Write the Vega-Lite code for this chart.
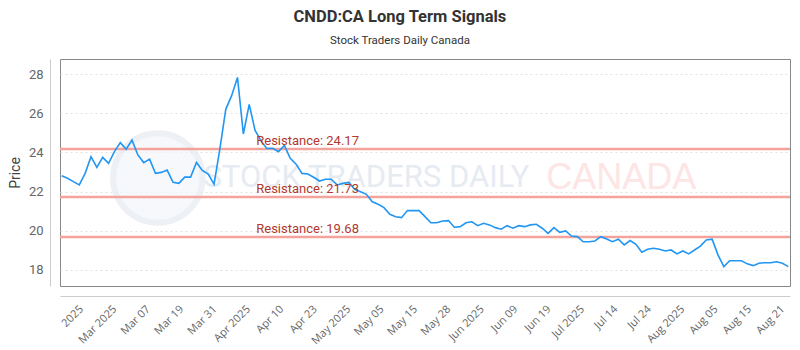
{
  "$schema": "https://vega.github.io/schema/vega-lite/v6.json",
  "width": 730,
  "height": 227,
  "autosize": {"type": "none"},
  "padding": {"left": 60, "top": 59, "right": 10, "bottom": 64},
  "background": "white",
  "title": {
    "text": "CNDD:CA Long Term Signals",
    "subtitle": "Stock Traders Daily Canada",
    "anchor": "middle",
    "frame": "bounds",
    "font": "Roboto",
    "fontSize": 16.5,
    "fontWeight": "bold",
    "color": "#333333",
    "subtitleFont": "Roboto",
    "subtitleFontSize": 11.5,
    "subtitleColor": "#333333",
    "subtitlePadding": 9,
    "offset": 13
  },
  "config": {
    "view": {"stroke": "#888888", "strokeWidth": 1},
    "axisX": {"labelOverlap": false, "labelFlush": false, "labelBound": false}
  },
  "datasets": {
    "prices": [
      {"day": 0, "price": 22.81}, {"day": 1, "price": 22.68}, {"day": 2, "price": 22.51}, {"day": 3, "price": 22.34},
      {"day": 4, "price": 22.93}, {"day": 5, "price": 23.78}, {"day": 6, "price": 23.24}, {"day": 7, "price": 23.75},
      {"day": 8, "price": 23.44}, {"day": 9, "price": 24.04}, {"day": 10, "price": 24.5}, {"day": 11, "price": 24.16},
      {"day": 12, "price": 24.63}, {"day": 13, "price": 23.87}, {"day": 14, "price": 23.48}, {"day": 15, "price": 23.66},
      {"day": 16, "price": 22.93}, {"day": 17, "price": 22.98}, {"day": 18, "price": 23.1}, {"day": 19, "price": 22.47},
      {"day": 20, "price": 22.42}, {"day": 21, "price": 22.74}, {"day": 22, "price": 22.74}, {"day": 23, "price": 23.49},
      {"day": 24, "price": 23.08}, {"day": 25, "price": 22.89}, {"day": 26, "price": 22.38}, {"day": 27, "price": 24.2},
      {"day": 28, "price": 26.2}, {"day": 29, "price": 26.9}, {"day": 30, "price": 27.83}, {"day": 31, "price": 24.94},
      {"day": 32, "price": 26.45}, {"day": 33, "price": 25.12}, {"day": 34, "price": 24.6}, {"day": 35, "price": 24.2},
      {"day": 36, "price": 24.21}, {"day": 37, "price": 24.04}, {"day": 38, "price": 24.36}, {"day": 39, "price": 23.7},
      {"day": 40, "price": 23.4}, {"day": 41, "price": 22.93}, {"day": 42, "price": 22.9}, {"day": 43, "price": 22.73},
      {"day": 44, "price": 22.54}, {"day": 45, "price": 22.63}, {"day": 46, "price": 22.63}, {"day": 47, "price": 22.34},
      {"day": 48, "price": 22.42}, {"day": 49, "price": 22.47}, {"day": 50, "price": 22.12}, {"day": 51, "price": 21.99},
      {"day": 52, "price": 21.86}, {"day": 53, "price": 21.48}, {"day": 54, "price": 21.35}, {"day": 55, "price": 21.18},
      {"day": 56, "price": 20.84}, {"day": 57, "price": 20.72}, {"day": 58, "price": 20.67}, {"day": 59, "price": 21.03},
      {"day": 60, "price": 21.03}, {"day": 61, "price": 21.03}, {"day": 62, "price": 20.72}, {"day": 63, "price": 20.41},
      {"day": 64, "price": 20.41}, {"day": 65, "price": 20.5}, {"day": 66, "price": 20.52}, {"day": 67, "price": 20.18},
      {"day": 68, "price": 20.21}, {"day": 69, "price": 20.41}, {"day": 70, "price": 20.46}, {"day": 71, "price": 20.26},
      {"day": 72, "price": 20.38}, {"day": 73, "price": 20.3}, {"day": 74, "price": 20.16}, {"day": 75, "price": 20.08},
      {"day": 76, "price": 20.26}, {"day": 77, "price": 20.13}, {"day": 78, "price": 20.26}, {"day": 79, "price": 20.21},
      {"day": 80, "price": 20.3}, {"day": 81, "price": 20.33}, {"day": 82, "price": 20.13}, {"day": 83, "price": 19.87},
      {"day": 84, "price": 20.16}, {"day": 85, "price": 19.92}, {"day": 86, "price": 19.99}, {"day": 87, "price": 19.73},
      {"day": 88, "price": 19.7}, {"day": 89, "price": 19.44}, {"day": 90, "price": 19.44}, {"day": 91, "price": 19.48},
      {"day": 92, "price": 19.7}, {"day": 93, "price": 19.58}, {"day": 94, "price": 19.44}, {"day": 95, "price": 19.57},
      {"day": 96, "price": 19.28}, {"day": 97, "price": 19.5}, {"day": 98, "price": 19.31}, {"day": 99, "price": 18.9},
      {"day": 100, "price": 19.06}, {"day": 101, "price": 19.11}, {"day": 102, "price": 19.06}, {"day": 103, "price": 18.97},
      {"day": 104, "price": 19.02}, {"day": 105, "price": 18.82}, {"day": 106, "price": 18.97}, {"day": 107, "price": 18.82},
      {"day": 108, "price": 19.02}, {"day": 109, "price": 19.22}, {"day": 110, "price": 19.53}, {"day": 111, "price": 19.57},
      {"day": 112, "price": 18.77}, {"day": 113, "price": 18.17}, {"day": 114, "price": 18.47}, {"day": 115, "price": 18.47},
      {"day": 116, "price": 18.47}, {"day": 117, "price": 18.31}, {"day": 118, "price": 18.22}, {"day": 119, "price": 18.34},
      {"day": 120, "price": 18.37}, {"day": 121, "price": 18.37}, {"day": 122, "price": 18.42}, {"day": 123, "price": 18.34},
      {"day": 124, "price": 18.17}
    ],
    "levels": [
      {"level": 24.17, "label": "Resistance: 24.17"},
      {"level": 21.73, "label": "Resistance: 21.73"},
      {"level": 19.68, "label": "Resistance: 19.68"}
    ]
  },
  "layer": [
    {
      "data": {"name": "prices"},
      "mark": {"type": "line", "color": "#2196f3", "strokeWidth": 0, "opacity": 0},
      "encoding": {
        "x": {
          "field": "day",
          "type": "quantitative",
          "scale": {"domain": [-0.29, 124.29], "nice": false, "zero": false},
          "axis": {
            "title": null,
            "values": [2.62, 8.32, 14.02, 19.72, 25.42, 31.12, 36.82, 42.52, 48.22, 53.92, 59.62, 65.32, 71.02, 76.72, 82.42, 88.12, 93.82, 99.52, 105.22, 110.92, 116.62, 122.32],
            "tickCount": 40,
            "labelExpr": "['2025','Mar 2025','Mar 07','Mar 19','Mar 31','Apr 2025','Apr 10','Apr 23','May 2025','May 05','May 15','May 28','Jun 2025','Jun 09','Jun 19','Jul 2025','Jul 14','Jul 24','Aug 2025','Aug 05','Aug 15','Aug 21'][round((datum.value - 2.62) / 5.7)]",
            "labelAngle": -45,
            "labelAlign": "right",
            "labelBaseline": "top",
            "labelPadding": 7,
            "labelFont": "Open Sans",
            "labelFontSize": 11,
            "labelColor": "#666666",
            "labelOverlap": false,
            "labelFlush": false,
            "labelBound": false,
            "ticks": false,
            "grid": false,
            "domainColor": "#cccccc",
            "offset": 10
          }
        },
        "y": {
          "field": "price",
          "type": "quantitative",
          "scale": {"domain": [17.18, 28.77], "nice": false, "zero": false},
          "axis": {
            "title": "Price",
            "values": [18, 20, 22, 24, 26, 28],
            "grid": true,
            "gridColor": "#e2e2e2",
            "gridDash": [2, 3],
            "ticks": false,
            "domainColor": "#cccccc",
            "offset": 10,
            "labelFont": "Roboto",
            "labelFontSize": 13,
            "labelColor": "#666666",
            "labelPadding": 7,
            "titleFont": "Roboto",
            "titleFontSize": 14,
            "titleFontWeight": "normal",
            "titleColor": "#444444",
            "titlePadding": 6
          }
        }
      }
    },
    {
      "data": {"values": [{"item": "logo"}]},
      "mark": {"type": "point", "shape": "circle", "size": 8000, "filled": true, "fill": "#f4f6fa", "stroke": "#e6ebf2", "strokeWidth": 6},
      "encoding": {
        "x": {"datum": 16.4, "type": "quantitative"},
        "y": {"datum": 22.69, "type": "quantitative"}
      }
    },
    {
      "data": {"values": [{"word": "STOCK TRADERS DAILY"}]},
      "mark": {"type": "text", "font": "Roboto", "fontSize": 31, "color": "#e6ebf2", "align": "center", "baseline": "middle"},
      "encoding": {
        "x": {"datum": 52.0, "type": "quantitative"},
        "y": {"datum": 22.69, "type": "quantitative"},
        "text": {"field": "word"}
      }
    },
    {
      "data": {"values": [{"word": "CANADA"}]},
      "mark": {"type": "text", "font": "Liberation Sans", "fontSize": 36, "color": "#fde5e5", "align": "center", "baseline": "middle"},
      "encoding": {
        "x": {"datum": 95.5, "type": "quantitative"},
        "y": {"datum": 22.69, "type": "quantitative"},
        "text": {"field": "word"}
      }
    },
    {
      "data": {"name": "levels"},
      "mark": {"type": "rule", "color": "#f4a29c", "strokeWidth": 2.5},
      "encoding": {
        "y": {"field": "level", "type": "quantitative"}
      }
    },
    {
      "data": {"name": "prices"},
      "mark": {"type": "line", "color": "#2196f3", "strokeWidth": 1.6},
      "encoding": {
        "x": {"field": "day", "type": "quantitative"},
        "y": {"field": "price", "type": "quantitative"}
      }
    },
    {
      "data": {"name": "levels"},
      "mark": {"type": "text", "font": "Roboto", "fontSize": 13, "color": "#b03a2e", "align": "left", "baseline": "alphabetic", "dy": -4},
      "encoding": {
        "x": {"datum": 33.2, "type": "quantitative"},
        "y": {"field": "level", "type": "quantitative"},
        "text": {"field": "label"}
      }
    }
  ]
}
